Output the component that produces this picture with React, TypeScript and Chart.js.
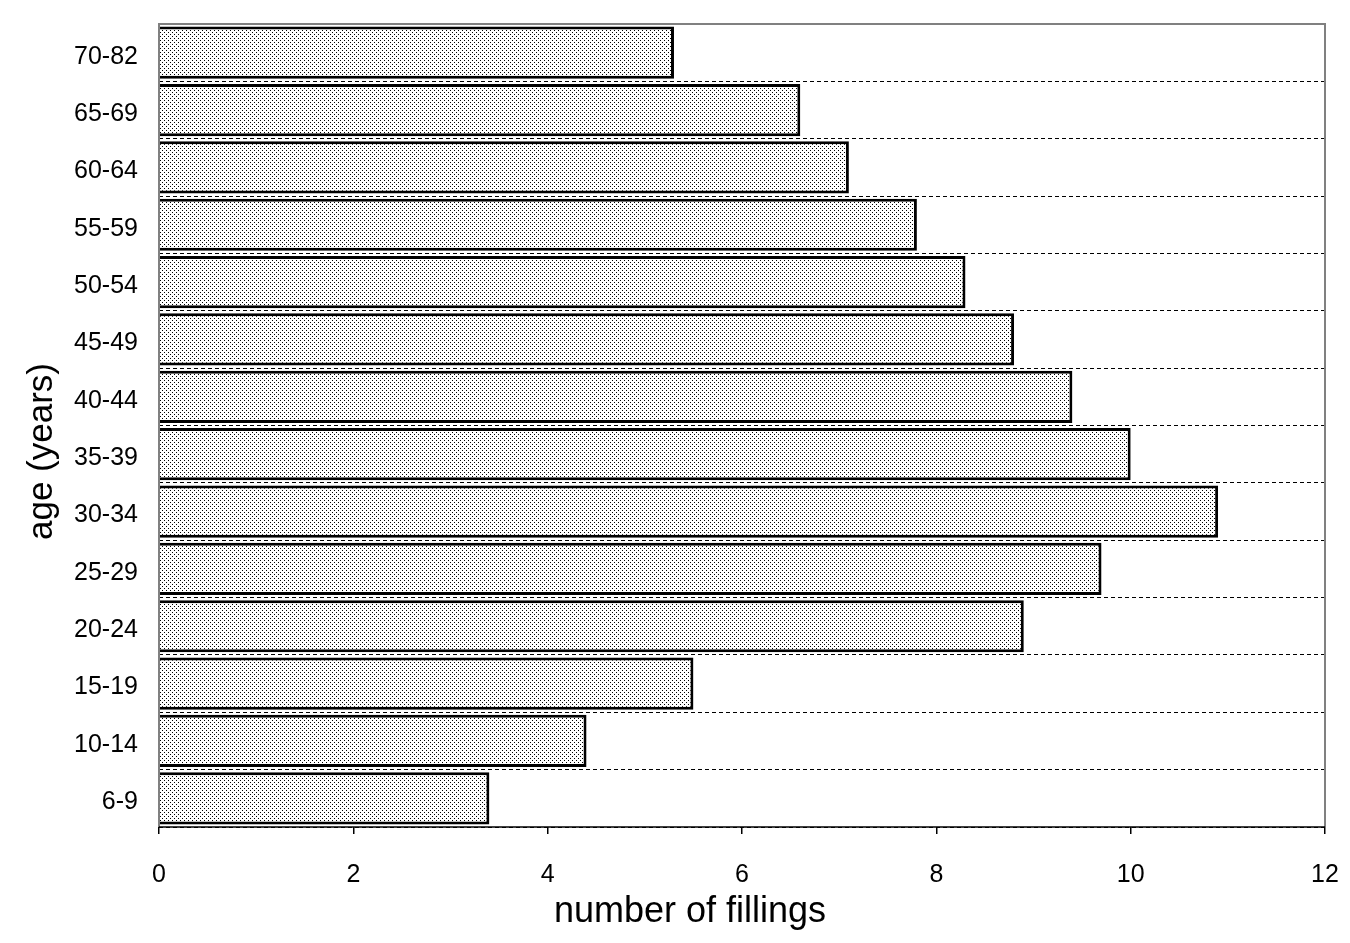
import React, { useEffect, useRef } from "react";
import { Chart, registerables } from "chart.js";

Chart.register(...registerables);

const categories = ["6-9", "10-14", "15-19", "20-24", "25-29", "30-34", "35-39", "40-44", "45-49", "50-54", "55-59", "60-64", "65-69", "70-82"];
const fillings = [3.4, 4.4, 5.5, 8.9, 9.7, 10.9, 10.0, 9.4, 8.8, 8.3, 7.8, 7.1, 6.6, 5.3];
const xTitle = "number of fillings";
const yTitle = "age (years)";

const FONT = "Liberation Sans, Arial, sans-serif";

function makePattern(): CanvasPattern | string {
  const c = document.createElement("canvas");
  c.width = 4;
  c.height = 4;
  const ctx = c.getContext("2d");
  if (!ctx) return "#c0c0c0";
  ctx.fillStyle = "#ffffff";
  ctx.fillRect(0, 0, 4, 4);
  ctx.fillStyle = "#000000";
  ctx.fillRect(0, 0, 1, 1);
  ctx.fillRect(2, 2, 1, 1);
  return ctx.createPattern(c, "repeat") || "#c0c0c0";
}

const framePlugin = {
  id: "frame",
  afterDraw(chart: any) {
    const { ctx, chartArea } = chart;
    const { left, right, top, bottom } = chartArea;
    ctx.save();
    ctx.strokeStyle = "#808080";
    ctx.lineWidth = 2;
    ctx.beginPath();
    ctx.moveTo(left, bottom);
    ctx.lineTo(left, top);
    ctx.lineTo(right, top);
    ctx.lineTo(right, bottom);
    ctx.stroke();
    ctx.strokeStyle = "#000000";
    ctx.lineWidth = 1.5;
    ctx.beginPath();
    ctx.moveTo(left, bottom);
    ctx.lineTo(right, bottom);
    ctx.stroke();

    // axis titles
    ctx.fillStyle = "#000000";
    ctx.textAlign = "center";
    ctx.textBaseline = "middle";
    ctx.font = `36px ${FONT}`;
    ctx.fillText(xTitle, (left + right) / 2 - 52, bottom + 85);
    ctx.translate(42, (top + bottom) / 2 + 26);
    ctx.rotate(-Math.PI / 2);
    ctx.font = `35px ${FONT}`;
    ctx.fillText(yTitle, 0, 0);
    ctx.restore();
  },
};

const zeroPad = (scale: any) => {
  scale.paddingTop = 0;
  scale.paddingBottom = 0;
  scale.paddingLeft = 0;
  scale.paddingRight = 0;
};

export default function App() {
  const ref = useRef<HTMLCanvasElement>(null);
  useEffect(() => {
    if (!ref.current) return;
    const pattern = makePattern();
    const chart = new Chart(ref.current, {
      type: "bar",
      data: {
        labels: categories,
        datasets: [
          {
            data: fillings,
            backgroundColor: pattern as any,
            borderColor: "#000000",
            borderWidth: 3,
            borderSkipped: "start",
            categoryPercentage: 1,
            barPercentage: 0.91,
          },
        ],
      },
      options: {
        indexAxis: "y",
        animation: false,
        responsive: false,
        maintainAspectRatio: false,
        layout: { padding: { top: 24, right: 25, left: 0, bottom: 0 } },
        plugins: { legend: { display: false }, tooltip: { enabled: false } },
        scales: {
          x: {
            type: "linear",
            min: 0,
            max: 12,
            ticks: {
              stepSize: 2,
              color: "#000000",
              padding: 26,
              font: { family: FONT, size: 25 },
              maxRotation: 0,
            },
            grid: {
              drawOnChartArea: false,
              drawTicks: true,
              tickLength: 7,
              color: "#000000",
              lineWidth: 1.5,
            },
            border: { display: false },
            afterFit: (scale: any) => {
              scale.height = 116;
              zeroPad(scale);
            },
          } as any,
          y: {
            type: "category",
            reverse: true,
            ticks: {
              color: "#000000",
              padding: 21,
              labelOffset: 4,
              font: { family: FONT, size: 25 },
            },
            grid: {
              offset: true,
              drawOnChartArea: true,
              drawTicks: false,
              tickLength: 0,
              color: "#000000",
              lineWidth: 1,
            },
            border: { display: false, dash: [4, 3] },
            afterFit: (scale: any) => {
              scale.width = 159;
              zeroPad(scale);
            },
          } as any,
        },
      },
      plugins: [framePlugin],
    });
    return () => chart.destroy();
  }, []);
  return (
    <div style={{ position: "fixed", left: 0, top: 0, width: 1350, height: 943, background: "#ffffff" }}>
      <canvas ref={ref} width={1350} height={943} style={{ width: 1350, height: 943 }} />
    </div>
  );
}
